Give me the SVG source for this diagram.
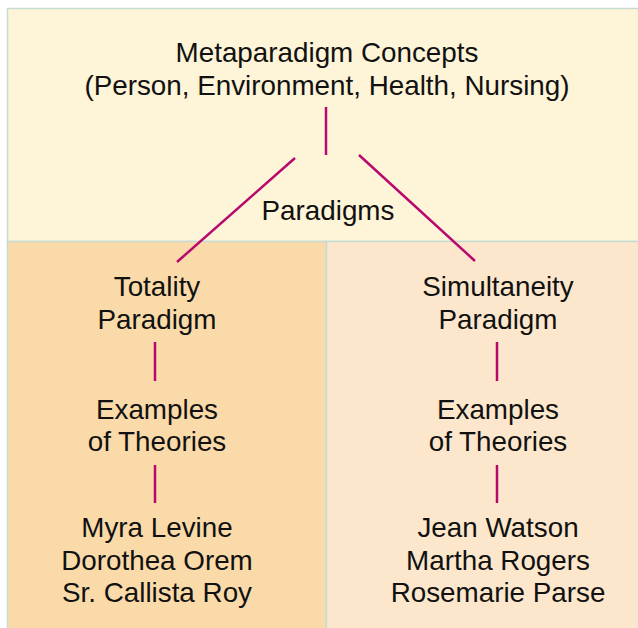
<svg xmlns="http://www.w3.org/2000/svg" width="638" height="628" viewBox="0 0 638 628">
<style>
text{font-family:"Liberation Sans",Arial,sans-serif;font-size:27.8px;fill:#111;text-anchor:middle}
.c{stroke:#b8086e;stroke-width:2.5;fill:none}
.p{stroke:#c6dcd3;stroke-width:1.5}
</style>
<rect width="638" height="628" fill="#fff"/>
<g id="panel-top">
<rect class="p" x="7.5" y="8.5" width="632" height="233" fill="#fef4d7"/>
</g>
<g id="panel-left">
<rect class="p" x="7.5" y="241.5" width="319" height="390" fill="#fbdaa9"/>
</g>
<g id="panel-right">
<rect class="p" x="326.5" y="241.5" width="313" height="390" fill="#fce7cc"/>
</g>
<g id="node-metaparadigm">
<text x="327" y="62">Metaparadigm Concepts</text>
<text x="327" y="95">(Person, Environment, Health, Nursing)</text>
</g>
<g id="node-paradigms"><text x="328" y="220">Paradigms</text></g>
<g id="node-totality"><text x="157" y="296">Totality</text><text x="157" y="329">Paradigm</text></g>
<g id="node-simultaneity"><text x="498" y="296">Simultaneity</text><text x="498" y="329">Paradigm</text></g>
<g id="node-examples-left"><text x="157" y="419">Examples</text><text x="157" y="451">of Theories</text></g>
<g id="node-examples-right"><text x="498" y="419">Examples</text><text x="498" y="451">of Theories</text></g>
<g id="node-theorists-left"><text x="157" y="537">Myra Levine</text><text x="157" y="570">Dorothea Orem</text><text x="157" y="602">Sr. Callista Roy</text></g>
<g id="node-theorists-right"><text x="498" y="537">Jean Watson</text><text x="498" y="570">Martha Rogers</text><text x="498" y="602">Rosemarie Parse</text></g>
<g id="connectors">
<line class="c" x1="326" y1="107" x2="326" y2="155"/>
<line class="c" x1="295" y1="158" x2="177" y2="262"/>
<line class="c" x1="359" y1="155" x2="475" y2="261"/>
<line class="c" x1="155" y1="342" x2="155" y2="381"/>
<line class="c" x1="155" y1="465" x2="155" y2="503"/>
<line class="c" x1="497" y1="342" x2="497" y2="381"/>
<line class="c" x1="497" y1="465" x2="497" y2="503"/>
</g>
</svg>
